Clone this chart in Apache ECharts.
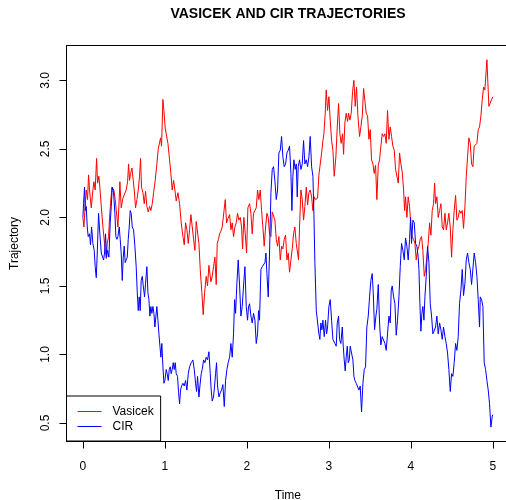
<!DOCTYPE html>
<html>
<head>
<meta charset="utf-8">
<script src="https://cdn.jsdelivr.net/npm/echarts@6/dist/echarts.min.js"></script>
<style>
  html, body { margin: 0; padding: 0; overflow: hidden; background: #fff; width: 506px; height: 500px; }
  #chart { width: 512px; height: 500px; }
</style>
</head>
<body>
<div id="chart"></div>
<script>
// Simulated short-rate paths on [0, 5]: [time, rate]
const vasicek = [
  [0,2.00],[0.012,1.93],[0.028,2.08],[0.041,2.20],[0.057,2.13],[0.069,2.31],[0.081,2.20],[0.102,2.07],[0.122,2.20],[0.134,2.26],
  [0.150,2.20],[0.167,2.43],[0.179,2.25],[0.195,2.30],[0.207,2.22],[0.224,2.08],[0.244,1.93],[0.264,1.81],[0.285,1.70],[0.297,1.81],
  [0.313,1.86],[0.325,2.00],[0.337,2.10],[0.354,2.22],[0.378,2.20],[0.394,2.13],[0.407,2.05],[0.427,1.93],[0.439,2.08],[0.451,2.26],
  [0.467,2.07],[0.488,2.14],[0.508,2.15],[0.528,2.20],[0.545,2.26],[0.557,2.39],[0.569,2.27],[0.581,2.32],[0.598,2.36],[0.614,2.27],
  [0.626,2.20],[0.642,2.07],[0.659,2.13],[0.675,2.20],[0.691,2.30],[0.703,2.43],[0.715,2.22],[0.732,2.18],[0.748,2.10],[0.764,2.19],
  [0.780,2.08],[0.797,2.04],[0.813,2.08],[0.829,2.05],[0.846,2.10],[0.862,2.18],[0.882,2.27],[0.902,2.39],[0.919,2.50],[0.935,2.49],
  [0.947,2.58],[0.959,2.52],[0.976,2.86],[0.988,2.78],[1.004,2.65],[1.020,2.66],[1.037,2.54],[1.057,2.42],[1.073,2.32],[1.089,2.20],
  [1.106,2.27],[1.122,2.20],[1.138,2.12],[1.159,2.18],[1.179,2.10],[1.199,1.96],[1.220,1.86],[1.236,1.80],[1.252,1.96],[1.268,1.91],
  [1.285,1.81],[1.301,1.91],[1.317,2.02],[1.333,2.03],[1.350,1.84],[1.366,1.76],[1.382,1.97],[1.398,1.96],[1.415,1.81],[1.431,1.62],
  [1.451,1.45],[1.467,1.29],[1.484,1.45],[1.504,1.57],[1.520,1.50],[1.537,1.65],[1.561,1.53],[1.577,1.57],[1.593,1.64],[1.610,1.71],
  [1.626,1.51],[1.638,1.81],[1.654,1.84],[1.667,1.88],[1.683,1.90],[1.699,1.93],[1.720,1.93],[1.736,2.13],[1.752,1.96],[1.768,1.99],
  [1.789,2.02],[1.805,1.91],[1.821,1.96],[1.837,1.86],[1.854,1.93],[1.870,1.96],[1.886,2.03],[1.902,1.98],[1.919,2.00],[1.935,1.93],
  [1.947,1.77],[1.963,2.00],[1.980,1.88],[1.996,1.74],[2.012,2.07],[2.033,2.10],[2.049,2.03],[2.065,1.88],[2.081,2.03],[2.098,2.05],
  [2.114,2.07],[2.130,2.20],[2.146,2.13],[2.163,2.20],[2.179,2.05],[2.195,1.93],[2.211,1.79],[2.228,1.93],[2.244,2.03],[2.260,2.00],
  [2.276,1.88],[2.293,1.86],[2.309,2.04],[2.325,2.05],[2.341,1.98],[2.358,1.84],[2.374,1.79],[2.390,1.86],[2.407,1.69],[2.423,1.79],
  [2.439,1.77],[2.455,1.84],[2.472,1.87],[2.488,1.69],[2.504,1.74],[2.520,1.60],[2.537,1.69],[2.553,1.77],[2.569,1.88],[2.585,1.93],
  [2.602,1.81],[2.618,1.74],[2.630,1.69],[2.642,1.93],[2.659,2.20],[2.675,2.13],[2.691,1.98],[2.707,2.08],[2.724,2.22],[2.740,2.09],
  [2.756,2.18],[2.772,2.20],[2.789,2.15],[2.805,2.05],[2.821,2.15],[2.837,2.13],[2.862,2.14],[2.878,2.31],[2.894,2.32],[2.911,2.47],
  [2.927,2.56],[2.939,2.61],[2.955,2.76],[2.967,2.93],[2.984,2.78],[3.000,2.88],[3.016,2.71],[3.033,2.56],[3.049,2.49],[3.065,2.30],
  [3.085,2.44],[3.102,2.66],[3.118,2.83],[3.134,2.61],[3.150,2.54],[3.167,2.61],[3.179,2.46],[3.195,2.69],[3.211,2.76],[3.228,2.70],
  [3.240,2.76],[3.256,2.71],[3.272,2.76],[3.289,2.92],[3.305,3.00],[3.321,2.81],[3.337,2.95],[3.354,2.74],[3.374,2.59],[3.390,2.66],
  [3.407,2.74],[3.423,2.94],[3.439,2.93],[3.455,2.76],[3.472,2.74],[3.488,2.57],[3.504,2.64],[3.520,2.42],[3.537,2.39],[3.553,2.32],
  [3.569,2.38],[3.585,2.13],[3.602,2.38],[3.618,2.42],[3.634,2.52],[3.650,2.61],[3.667,2.59],[3.683,2.61],[3.699,2.54],[3.715,2.78],
  [3.732,2.57],[3.748,2.66],[3.764,2.59],[3.780,2.52],[3.797,2.49],[3.813,2.35],[3.829,2.36],[3.846,2.25],[3.862,2.47],[3.878,2.39],
  [3.894,2.33],[3.911,2.20],[3.923,2.05],[3.935,2.15],[3.951,2.00],[3.967,2.15],[3.984,2.08],[4.000,1.93],[4.016,1.86],[4.033,1.84],
  [4.049,1.81],[4.065,1.69],[4.081,1.76],[4.098,1.79],[4.114,1.84],[4.130,1.86],[4.146,1.76],[4.163,1.57],[4.179,1.62],[4.195,1.71],
  [4.211,1.81],[4.228,1.96],[4.244,1.87],[4.260,2.05],[4.276,2.10],[4.289,2.25],[4.301,2.10],[4.317,2.15],[4.333,2.00],[4.350,2.05],
  [4.366,2.10],[4.382,1.93],[4.398,1.91],[4.415,2.03],[4.431,1.91],[4.447,1.96],[4.463,2.03],[4.480,1.93],[4.496,1.71],[4.512,1.91],
  [4.528,2.05],[4.545,2.16],[4.561,1.98],[4.577,2.00],[4.593,2.05],[4.610,2.03],[4.626,2.05],[4.642,1.92],[4.659,2.08],[4.675,2.30],
  [4.691,2.44],[4.707,2.58],[4.724,2.54],[4.740,2.39],[4.756,2.37],[4.772,2.52],[4.789,2.52],[4.805,2.54],[4.821,2.64],[4.837,2.66],
  [4.854,2.74],[4.870,2.86],[4.886,2.95],[4.902,2.93],[4.919,3.08],[4.927,3.15],[4.939,2.98],[4.951,2.81],[4.967,2.81],[4.984,2.86],
  [5.000,2.88]
];

const cir = [
  [0,2.00],[0.008,2.10],[0.020,2.22],[0.028,2.05],[0.041,2.08],[0.053,1.93],[0.065,1.86],[0.081,1.88],[0.093,1.80],[0.106,1.93],
  [0.122,1.81],[0.138,1.76],[0.150,1.64],[0.163,1.56],[0.175,1.74],[0.191,2.03],[0.207,1.88],[0.224,1.74],[0.240,1.71],[0.252,1.69],
  [0.264,1.74],[0.276,1.88],[0.289,1.71],[0.301,1.76],[0.317,1.71],[0.333,1.96],[0.346,2.08],[0.358,2.22],[0.374,2.18],[0.390,2.03],
  [0.402,1.86],[0.415,1.84],[0.427,1.86],[0.443,1.93],[0.455,1.84],[0.467,1.74],[0.480,1.54],[0.492,1.71],[0.504,1.79],[0.516,1.67],
  [0.528,1.69],[0.541,1.71],[0.553,1.84],[0.565,1.93],[0.577,2.05],[0.589,2.03],[0.602,1.93],[0.618,1.91],[0.634,1.79],[0.650,1.64],
  [0.663,1.45],[0.675,1.32],[0.687,1.42],[0.699,1.32],[0.711,1.54],[0.724,1.57],[0.736,1.50],[0.752,1.42],[0.764,1.52],[0.780,1.64],
  [0.793,1.45],[0.805,1.40],[0.817,1.28],[0.829,1.35],[0.841,1.30],[0.854,1.35],[0.866,1.30],[0.878,1.20],[0.890,1.28],[0.902,1.35],
  [0.915,1.25],[0.927,1.15],[0.939,1.15],[0.951,0.98],[0.963,1.08],[0.976,0.91],[0.988,0.79],[1.000,0.81],[1.016,0.89],[1.028,0.86],
  [1.041,0.81],[1.053,0.89],[1.065,0.91],[1.077,0.86],[1.089,0.89],[1.102,0.94],[1.114,0.89],[1.126,0.94],[1.138,0.86],[1.154,0.84],
  [1.167,0.72],[1.179,0.64],[1.191,0.74],[1.203,0.77],[1.220,0.79],[1.236,0.77],[1.252,0.81],[1.268,0.74],[1.285,0.86],[1.301,0.91],
  [1.321,0.94],[1.341,0.96],[1.358,0.89],[1.374,0.79],[1.386,0.73],[1.398,0.84],[1.415,0.69],[1.427,0.77],[1.443,0.86],[1.455,0.89],
  [1.472,0.96],[1.488,0.94],[1.504,0.98],[1.520,0.96],[1.537,1.02],[1.553,0.86],[1.565,0.74],[1.577,0.66],[1.593,0.69],[1.606,0.77],
  [1.618,0.86],[1.630,0.94],[1.642,0.77],[1.659,0.69],[1.675,0.72],[1.691,0.74],[1.707,0.78],[1.724,0.62],[1.740,0.81],[1.756,0.89],
  [1.772,0.94],[1.789,0.98],[1.805,1.08],[1.821,0.98],[1.837,1.15],[1.850,1.40],[1.862,1.30],[1.878,1.52],[1.894,1.69],[1.911,1.50],
  [1.927,1.28],[1.943,1.35],[1.959,1.50],[1.976,1.64],[1.992,1.35],[2.008,1.25],[2.020,1.35],[2.033,1.37],[2.049,1.28],[2.065,1.23],
  [2.081,1.30],[2.098,1.25],[2.114,1.08],[2.130,1.15],[2.142,1.32],[2.154,1.25],[2.171,1.62],[2.187,1.64],[2.203,1.64],[2.220,1.67],
  [2.232,1.74],[2.244,1.59],[2.260,1.42],[2.276,1.74],[2.293,2.18],[2.309,2.35],[2.325,2.37],[2.341,2.27],[2.358,2.13],[2.374,2.20],
  [2.390,2.47],[2.407,2.49],[2.423,2.59],[2.439,2.44],[2.455,2.37],[2.472,2.39],[2.488,2.47],[2.504,2.49],[2.520,2.52],[2.537,2.32],
  [2.549,2.05],[2.561,2.30],[2.573,2.42],[2.589,2.35],[2.602,2.39],[2.614,2.15],[2.626,2.37],[2.642,2.42],[2.659,2.35],[2.675,2.39],
  [2.691,2.56],[2.707,2.39],[2.724,2.42],[2.740,2.37],[2.756,2.44],[2.772,2.59],[2.789,2.37],[2.805,2.30],[2.817,2.03],[2.829,1.67],
  [2.846,1.32],[2.862,1.32],[2.878,1.15],[2.890,1.11],[2.902,1.23],[2.915,1.18],[2.927,1.25],[2.943,1.13],[2.959,1.25],[2.972,1.15],
  [2.984,1.20],[3.000,1.35],[3.016,1.40],[3.033,1.25],[3.049,1.11],[3.057,1.11],[3.073,1.08],[3.089,1.06],[3.102,1.23],[3.118,1.28],
  [3.130,1.11],[3.146,1.08],[3.163,1.20],[3.175,1.06],[3.187,0.96],[3.199,0.88],[3.211,0.98],[3.224,1.06],[3.236,0.94],[3.248,0.96],
  [3.260,1.06],[3.276,1.01],[3.293,0.96],[3.305,0.84],[3.317,0.81],[3.333,0.79],[3.350,0.78],[3.366,0.74],[3.382,0.77],[3.398,0.58],
  [3.415,0.79],[3.431,0.89],[3.447,0.91],[3.463,1.20],[3.480,1.28],[3.496,1.42],[3.512,1.54],[3.528,1.59],[3.541,1.45],[3.557,1.18],
  [3.573,1.28],[3.585,1.33],[3.602,1.51],[3.618,1.23],[3.634,1.07],[3.650,1.13],[3.667,1.13],[3.683,1.08],[3.699,1.03],[3.715,1.15],
  [3.732,1.28],[3.748,1.23],[3.760,1.47],[3.772,1.50],[3.789,1.42],[3.805,1.37],[3.821,1.14],[3.837,1.25],[3.854,1.42],[3.870,1.64],
  [3.886,1.81],[3.902,1.76],[3.919,1.69],[3.935,1.85],[3.951,1.79],[3.967,1.69],[3.984,1.84],[3.996,2.00],[4.008,1.81],[4.024,1.98],
  [4.041,1.96],[4.057,1.81],[4.073,1.79],[4.089,1.71],[4.098,1.62],[4.110,1.37],[4.122,1.17],[4.134,1.30],[4.146,1.35],[4.159,1.25],
  [4.171,1.42],[4.187,1.57],[4.203,1.79],[4.220,1.67],[4.236,1.37],[4.252,1.28],[4.268,1.15],[4.285,1.14],[4.301,1.20],[4.317,1.28],
  [4.333,1.15],[4.350,1.23],[4.366,1.18],[4.382,1.11],[4.398,1.20],[4.415,1.13],[4.431,1.08],[4.447,1.01],[4.463,0.89],[4.480,0.73],
  [4.496,0.86],[4.512,0.84],[4.528,0.94],[4.545,1.08],[4.561,1.03],[4.577,1.13],[4.593,1.37],[4.610,1.47],[4.626,1.62],[4.642,1.43],
  [4.659,1.52],[4.675,1.69],[4.691,1.74],[4.707,1.67],[4.724,1.62],[4.740,1.51],[4.756,1.52],[4.772,1.74],[4.789,1.67],[4.805,1.57],
  [4.821,1.40],[4.837,1.20],[4.846,1.42],[4.862,1.40],[4.878,1.35],[4.894,0.94],[4.911,0.89],[4.927,0.81],[4.943,0.74],[4.959,0.64],
  [4.976,0.47],[4.992,0.55],[5.000,0.56]
];

const seriesNames = ['Vasicek', 'CIR'];
const seriesColors = ['#FF0000', '#0000FF'];
const xTicks = [0, 1, 2, 3, 4, 5];
const yTicks = [0.5, 1.0, 1.5, 2.0, 2.5, 3.0];

const FONT = '"Liberation Sans", Arial, Helvetica, sans-serif';
const chart = echarts.init(document.getElementById('chart'), null, { renderer: 'canvas' });

const axisLineStyle = { show: true, onZero: false, lineStyle: { color: '#000', width: 1 } };

chart.setOption({
  animation: false,
  backgroundColor: '#fff',
  title: {
    text: 'VASICEK AND CIR TRAJECTORIES',
    left: 288, top: 7, padding: 0, textAlign: 'center',
    textStyle: { fontFamily: FONT, fontSize: 14, fontWeight: 'bold', color: '#000' }
  },
  legend: {
    data: seriesNames,
    orient: 'vertical',
    left: 66.5, top: 396,
    padding: [8, 7, 7, 11],
    icon: 'rect',
    itemWidth: 24, itemHeight: 1, itemGap: 0,
    backgroundColor: '#fff',
    borderColor: '#000', borderWidth: 1,
    textStyle: { fontFamily: FONT, fontSize: 12, lineHeight: 15, color: '#000', padding: [0, 0, 0, 6] },
    z: 10
  },
  grid: {
    left: 66.5, top: 45.5, width: 442.8, height: 396,
    outerBoundsMode: 'none', containLabel: false,
    show: true, borderColor: '#000', borderWidth: 1, backgroundColor: 'transparent'
  },
  xAxis: {
    type: 'value', min: -0.2, max: 5.2,
    name: 'Time', nameLocation: 'middle', nameGap: 48, nameMoveOverlap: false,
    nameTextStyle: { fontFamily: FONT, fontSize: 12, color: '#000' },
    axisLine: axisLineStyle,
    axisTick: { show: true, customValues: xTicks, length: 7, lineStyle: { color: '#000', width: 1 } },
    axisLabel: { customValues: xTicks, margin: 19, fontFamily: FONT, fontSize: 12, color: '#000',
                 formatter: v => String(v) },
    splitLine: { show: false }
  },
  yAxis: {
    type: 'value', min: 0.365, max: 3.254,
    name: 'Trajectory', nameLocation: 'middle', nameGap: 46, nameRotate: 90, nameMoveOverlap: false,
    nameTextStyle: { fontFamily: FONT, fontSize: 12, color: '#000' },
    axisLine: axisLineStyle,
    axisTick: { show: true, customValues: yTicks, length: 7, lineStyle: { color: '#000', width: 1 } },
    axisLabel: { customValues: yTicks, rotate: 90, margin: 15, fontFamily: FONT, fontSize: 12, color: '#000',
                 formatter: v => v.toFixed(1) },
    splitLine: { show: false }
  },
  series: [
    { name: seriesNames[0], type: 'line', data: vasicek, symbol: 'none', color: seriesColors[0],
      lineStyle: { color: seriesColors[0], width: 1 }, z: 2 },
    { name: seriesNames[1], type: 'line', data: cir, symbol: 'none', color: seriesColors[1],
      lineStyle: { color: seriesColors[1], width: 1 }, z: 3 }
  ]
});
</script>
</body>
</html>
